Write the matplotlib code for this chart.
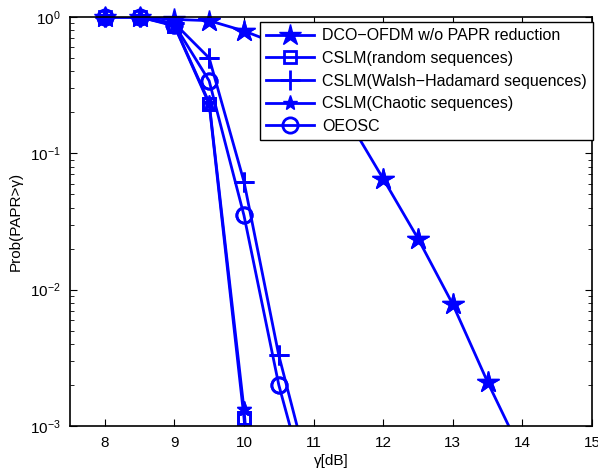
import numpy as np
import matplotlib.pyplot as plt
from matplotlib.ticker import LogLocator, NullFormatter

plt.rcParams['font.family'] = ['Liberation Sans', 'DejaVu Sans']
plt.rcParams['mathtext.fontset'] = 'custom'
plt.rcParams['mathtext.rm'] = 'Liberation Sans'

# CCDF of PAPR for each scheme
gamma_dco = [8, 8.5, 9, 9.5, 10, 10.5, 11, 11.5, 12, 12.5, 13, 13.5, 14]
ccdf_dco = [1.0, 1.0, 0.96, 0.94, 0.79, 0.63, 0.38, 0.175, 0.065, 0.0237, 0.0078, 0.0021, 6.2e-4]

gamma_cslm = [8, 8.5, 9, 9.5, 10, 10.5]
ccdf_random = [1.0, 1.0, 0.86, 0.23, 1.15e-3, 1e-6]
ccdf_chaotic = [1.0, 1.0, 0.87, 0.235, 1.33e-3, 1.2e-6]

gamma_long = [8, 8.5, 9, 9.5, 10, 10.5, 11]
ccdf_walsh = [1.0, 1.0, 0.9, 0.5, 0.062, 3.3e-3, 3.4e-4]
ccdf_oeosc = [1.0, 1.0, 0.88, 0.34, 0.035, 2.0e-3, 2.3e-4]

labels = ['DCO\u2212OFDM w/o PAPR reduction', 'CSLM(random sequences)',
          'CSLM(Walsh\u2212Hadamard sequences)', 'CSLM(Chaotic sequences)', 'OEOSC']

blue = '#0000ff'
ymin, ymax = 1e-3, 1

fig = plt.figure(figsize=(5.98, 4.72), dpi=100)
ax = fig.add_axes([0.117, 0.0975, 0.873, 0.8665])

series = [
    (gamma_dco, ccdf_dco, dict(marker='*', ms=16, mfc=blue, mew=1)),
    (gamma_cslm, ccdf_random, dict(marker='s', ms=9, mfc='none', mew=2)),
    (gamma_long, ccdf_walsh, dict(marker='+', ms=14, mew=2)),
    (gamma_cslm, ccdf_chaotic, dict(marker='*', ms=11, mew=1)),
    (gamma_long, ccdf_oeosc, dict(marker='o', ms=11, mfc='none', mew=2)),
]

for (x, y, mk), lab in zip(series, labels):
    ax.semilogy(x, y, '-', color=blue, lw=2, label=lab, **mk)
    # markers sitting on the axes border are drawn whole
    xs = [a for a, b in zip(x, y) if ymin <= b <= ymax]
    ys = [b for b in y if ymin <= b <= ymax]
    ax.semilogy(xs, ys, ls='none', color=blue, clip_on=False, **mk)

ax.set_xlim(7.5, 15)
ax.set_ylim(ymin, ymax)
ax.set_xticks(np.arange(8, 16, 1))
ax.yaxis.set_major_locator(LogLocator(base=10))
ax.yaxis.set_minor_locator(LogLocator(base=10, subs=np.arange(2, 10)))
ax.yaxis.set_minor_formatter(NullFormatter())
ax.tick_params(which='both', direction='in', top=True, right=True, labelsize=11)
ax.tick_params(which='major', length=5, pad=7)
ax.tick_params(which='minor', length=3)
for sp in ax.spines.values():
    sp.set_linewidth(1.2)

ax.set_xlabel('\u03b3[dB]', fontsize=11, labelpad=3)
ax.set_ylabel('Prob(PAPR>\u03b3)', fontsize=11, labelpad=5)

leg = ax.legend(loc='upper right', bbox_to_anchor=(1.002, 0.988), fontsize=11.5,
                fancybox=False, edgecolor='black', framealpha=1,
                handlelength=3.0, handletextpad=0.5, borderpad=0.4,
                labelspacing=0.48, borderaxespad=0)
leg.get_frame().set_linewidth(1)

fig.savefig('out.png', dpi=100)
